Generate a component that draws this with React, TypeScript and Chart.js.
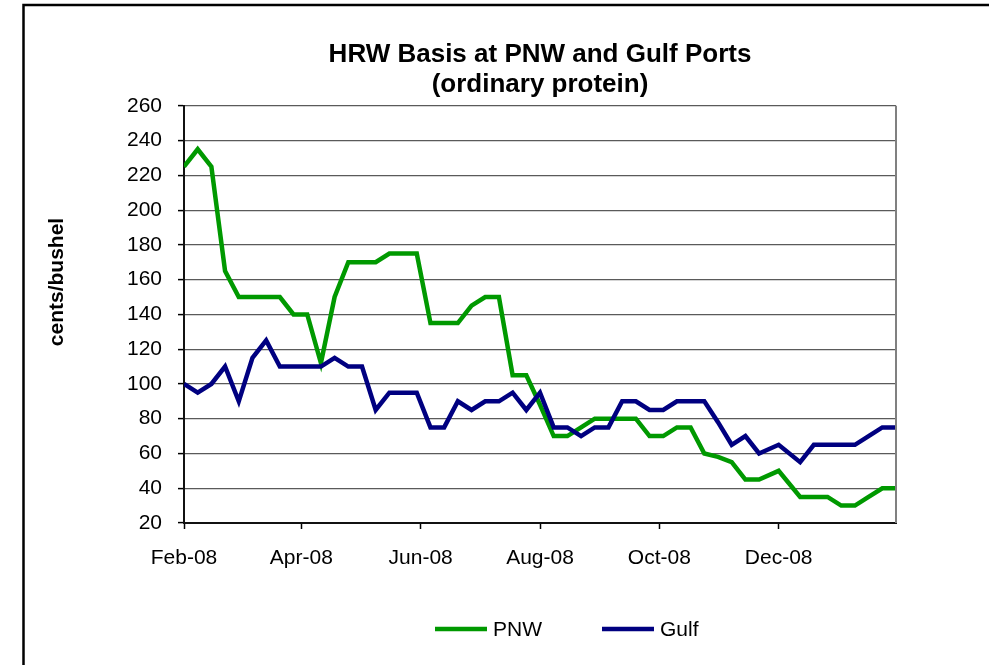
import React, { useEffect, useRef } from 'react';
import { Chart, registerables } from 'chart.js';

Chart.register(...registerables);

// ---- data ----
const dates = [
  '2008-02-01', '2008-02-08', '2008-02-15', '2008-02-22', '2008-02-29',
  '2008-03-07', '2008-03-14', '2008-03-21', '2008-03-28', '2008-04-04',
  '2008-04-11', '2008-04-18', '2008-04-25', '2008-05-02', '2008-05-09',
  '2008-05-16', '2008-05-23', '2008-05-30', '2008-06-06', '2008-06-13',
  '2008-06-20', '2008-06-27', '2008-07-04', '2008-07-11', '2008-07-18',
  '2008-07-25', '2008-08-01', '2008-08-08', '2008-08-15', '2008-08-22',
  '2008-08-29', '2008-09-05', '2008-09-12', '2008-09-19', '2008-09-26',
  '2008-10-03', '2008-10-10', '2008-10-17', '2008-10-24', '2008-10-31',
  '2008-11-07', '2008-11-14', '2008-11-21', '2008-12-01', '2008-12-12',
  '2008-12-19', '2008-12-26', '2009-01-02', '2009-01-09', '2009-01-16',
  '2009-01-23', '2009-01-30',
];
const pnwValues = [
  225, 235, 225, 165, 150, 150, 150, 150, 140, 140,
  112, 150, 170, 170, 170, 175, 175, 175, 135, 135,
  135, 145, 150, 150, 105, 105, 88, 70, 70, 75,
  80, 80, 80, 80, 70, 70, 75, 75, 60, 58,
  55, 45, 45, 50, 35, 35, 35, 30, 30, 35,
  40, 40,
];
const gulfValues = [
  100, 95, 100, 110, 90, 115, 125, 110, 110, 110,
  110, 115, 110, 110, 85, 95, 95, 95, 75, 75,
  90, 85, 90, 90, 95, 85, 95, 75, 75, 70,
  75, 75, 90, 90, 85, 85, 90, 90, 90, 78,
  65, 70, 60, 65, 55, 65, 65, 65, 65, 70,
  75, 75,
];
const seriesNames = ['PNW', 'Gulf'];
const seriesColors = ['#009900', '#000080'];
const tickDates = ['2008-02-01', '2008-04-01', '2008-06-01', '2008-08-01', '2008-10-01', '2008-12-01'];
const tickLabels = ['Feb-08', 'Apr-08', 'Jun-08', 'Aug-08', 'Oct-08', 'Dec-08'];
const yMin = 20;
const yMax = 260;
const yStep = 20;
const titleLines = ['HRW Basis at PNW and Gulf Ports', '(ordinary protein)'];
const yAxisTitle = 'cents/bushel';

const FONT = "'Liberation Sans', Arial, Helvetica, sans-serif";
const START = Date.UTC(2008, 1, 1);
const dayOf = (s: string) => {
  const [y, m, d] = s.split('-').map(Number);
  return (Date.UTC(y, m - 1, d) - START) / 86400000;
};

const extrasPlugin = {
  id: 'extras',
  beforeDraw(chart: any) {
    const ctx = chart.ctx;
    ctx.save();
    ctx.fillStyle = '#ffffff';
    ctx.fillRect(0, 0, chart.width, chart.height);
    ctx.strokeStyle = '#000000';
    ctx.lineWidth = 2.5;
    ctx.beginPath();
    ctx.moveTo(23.5, chart.height + 10);
    ctx.lineTo(23.5, 5);
    ctx.lineTo(chart.width + 10, 5);
    ctx.stroke();
    ctx.restore();
  },
  afterDraw(chart: any) {
    const ctx = chart.ctx;
    const area = chart.chartArea;
    ctx.save();
    // right plot border
    ctx.strokeStyle = '#808080';
    ctx.lineWidth = 2;
    ctx.beginPath();
    ctx.moveTo(area.right, area.top);
    ctx.lineTo(area.right, area.bottom);
    ctx.stroke();
    // y axis title
    ctx.fillStyle = '#000';
    ctx.font = `bold 21px ${FONT}`;
    ctx.textAlign = 'center';
    ctx.textBaseline = 'middle';
    ctx.translate(57, 282);
    ctx.rotate(-Math.PI / 2);
    ctx.fillText(yAxisTitle, 0, 0);
    ctx.restore();

    // legend
    ctx.save();
    ctx.font = `21px ${FONT}`;
    ctx.textBaseline = 'middle';
    ctx.textAlign = 'left';
    let x = 435;
    const y = 629;
    chart.data.datasets.forEach((ds: any) => {
      ctx.strokeStyle = ds.borderColor;
      ctx.lineWidth = 4.5;
      ctx.lineCap = 'butt';
      ctx.beginPath();
      ctx.moveTo(x, y);
      ctx.lineTo(x + 52, y);
      ctx.stroke();
      ctx.fillStyle = '#000';
      ctx.fillText(ds.label, x + 58, y + 1);
      x += 58 + ctx.measureText(ds.label).width + 60;
    });
    ctx.restore();
  },
};

export default function App() {
  const ref = useRef<HTMLCanvasElement | null>(null);

  useEffect(() => {
    if (!ref.current) return;
    const xs = dates.map(dayOf);
    const ticksX = tickDates.map(dayOf);
    const chart = new Chart(ref.current, {
      type: 'line',
      data: {
        datasets: [
          {
            label: seriesNames[0],
            data: xs.map((x, i) => ({ x, y: pnwValues[i] })),
            borderColor: seriesColors[0],
            backgroundColor: seriesColors[0],
            borderWidth: 4.5,
            pointRadius: 0,
            tension: 0,
            order: 1,
          },
          {
            label: seriesNames[1],
            data: xs.map((x, i) => ({ x, y: gulfValues[i] })),
            borderColor: seriesColors[1],
            backgroundColor: seriesColors[1],
            borderWidth: 4.5,
            pointRadius: 0,
            tension: 0,
            order: 0,
          },
        ],
      },
      options: {
        responsive: false,
        animation: false,
        events: [],
        layout: { padding: { left: 0, right: 93, top: 0, bottom: 0 } },
        plugins: {
          legend: { display: false },
          tooltip: { enabled: false },
          title: {
            display: true,
            text: titleLines,
            fullSize: false,
            color: '#000',
            font: { family: FONT, size: 26, weight: 'bold', lineHeight: 1.15 },
            padding: { top: 40, bottom: 6 },
          },
        },
        scales: {
          x: {
            type: 'linear',
            min: 0,
            max: xs[xs.length - 1],
            afterFit: (s: any) => { s.height = 142; },
            afterBuildTicks: (s: any) => { s.ticks = ticksX.map((v) => ({ value: v })); },
            ticks: {
              color: '#000',
              font: { family: FONT, size: 21 },
              padding: 17,
              maxRotation: 0,
              autoSkip: false,
              callback: (v: any) => {
                const i = ticksX.indexOf(Number(v));
                return i >= 0 ? tickLabels[i] : '';
              },
            },
            grid: { drawOnChartArea: false, drawTicks: true, tickLength: 6, tickColor: '#000', tickWidth: 1.5 },
            border: { color: '#111', width: 2 },
          },
          y: {
            type: 'linear',
            min: yMin,
            max: yMax,
            afterFit: (s: any) => { s.width = 184; },
            ticks: {
              stepSize: yStep,
              color: '#000',
              font: { family: FONT, size: 21 },
              padding: 16,
            },
            grid: { color: '#5a5a5a', lineWidth: 1.2, drawTicks: true, tickLength: 6, tickColor: '#000', tickWidth: 1.5 },
            border: { color: '#111', width: 2 },
          },
        },
      },
      plugins: [extrasPlugin],
    } as any);
    return () => chart.destroy();
  }, []);

  return (
    <div style={{ position: 'fixed', left: 0, top: 0, width: 989, height: 665, background: '#fff' }}>
      <canvas ref={ref} width={989} height={665} style={{ display: 'block', width: 989, height: 665 }} />
    </div>
  );
}
